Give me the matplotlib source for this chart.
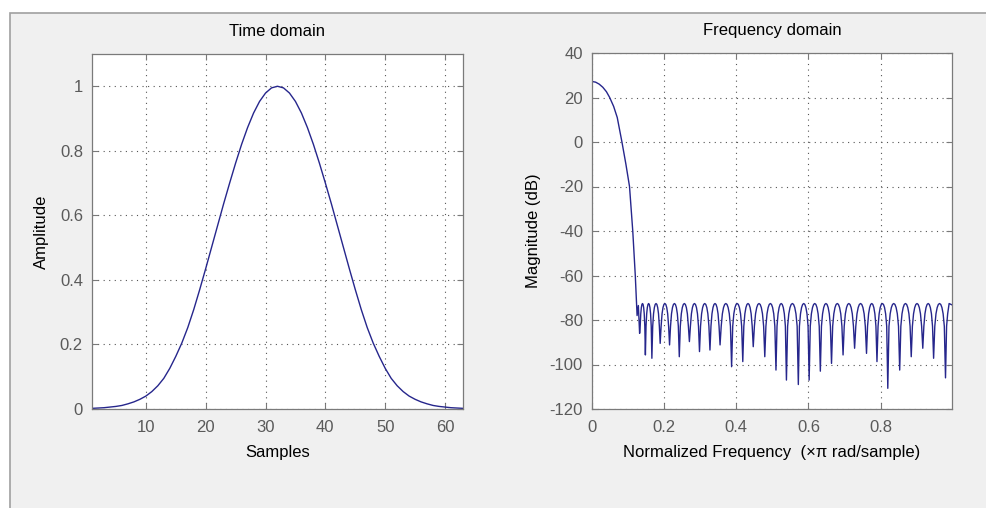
"""Window visualization: time domain and frequency domain views."""

import matplotlib
matplotlib.use("Agg")
import matplotlib.pyplot as plt
from matplotlib.patches import Rectangle

plt.rcParams['font.family'] = ['Liberation Sans', 'DejaVu Sans']
plt.rcParams['axes.unicode_minus'] = False

# time domain: samples 1..63 (symmetric about sample 32)
half_amp = [0.002, 0.003, 0.004, 0.006, 0.008, 0.011, 0.016, 0.022, 0.030, 0.040,
            0.054, 0.072, 0.095, 0.126, 0.163, 0.204, 0.252, 0.308, 0.370, 0.435,
            0.502, 0.569, 0.636, 0.700, 0.762, 0.820, 0.872, 0.917, 0.953, 0.979,
            0.995]
samples = list(range(1, 64))
amplitude = half_amp + [1.0] + half_amp[::-1]

# frequency domain: main lobe
main_f = [0, 0.01, 0.02, 0.03, 0.04, 0.049, 0.06, 0.07, 0.083, 0.094, 0.104,
          0.113, 0.120, 0.125]
main_db = [27.2, 26.9, 26.0, 24.6, 22.6, 20.0, 16.0, 11.0, 0.0, -10.0, -20.0,
           -40.0, -60.0, -78.0]

# side lobes: nulls, peak level and lobe profile
null_f = [0.132, 0.148, 0.166, 0.189, 0.215, 0.242, 0.270, 0.298, 0.327, 0.355,
          0.387, 0.418, 0.447, 0.479, 0.510, 0.539, 0.572, 0.602, 0.633, 0.664,
          0.696, 0.728, 0.761, 0.790, 0.820, 0.853, 0.885, 0.917, 0.947, 0.980]
null_db = [-86, -95.7, -97.2, -90.5, -91.2, -96.5, -89.7, -94.2, -93.5, -91.2,
           -101, -98.7, -92, -96.5, -102.5, -107, -109, -107, -103, -99.5,
           -95.7, -92.7, -95, -98.7, -110.7, -102.5, -96.5, -92.7, -97.2, -106]
sidelobe_db = -72.6
# one lobe, between two nulls: position (fraction) and level below the peak
lobe_pos = [0.1, 0.2, 0.3, 0.4, 0.5, 0.6, 0.7, 0.8, 0.9]
lobe_rel = [-10.2, -4.6, -1.8, -0.4, 0.0, -0.4, -1.8, -4.6, -10.2]
first_f, first_db = [0.1285], [-73.5]
end_f, end_db = [0.990, 0.998], [-72.6, -73.2]

freq = list(main_f) + first_f
mag = list(main_db) + first_db
for i in range(len(null_f)):
    freq.append(null_f[i])
    mag.append(null_db[i])
    if i + 1 < len(null_f):
        span = null_f[i + 1] - null_f[i]
        for p, r in zip(lobe_pos, lobe_rel):
            freq.append(null_f[i] + p * span)
            mag.append(sidelobe_db + r)
freq += [null_f[-1] + 0.003, null_f[-1] + 0.006] + end_f
mag += [sidelobe_db - 10.2, sidelobe_db - 4.6] + end_db

line_color = '#26268c'
tick_color = '#5a5a5a'
fs = 12

fig = plt.figure(figsize=(9.87, 5.08), dpi=100, facecolor='white')
W, H = 987.0, 508.0
panel = Rectangle((10 / W, -0.1), 1.2, (508 - 13) / H + 0.1,
                  transform=fig.transFigure, facecolor='#f0f0f0',
                  edgecolor='#a0a0a0', linewidth=1.2, zorder=-10)
fig.add_artist(panel)


def style_axes(ax):
    ax.set_facecolor('white')
    for s in ax.spines.values():
        s.set_color('#7a7a7a')
        s.set_linewidth(0.9)
    ax.tick_params(direction='in', length=4, top=True, right=True,
                   colors='#7a7a7a', labelcolor=tick_color, labelsize=fs)
    ax.tick_params(axis='x', pad=8)
    ax.tick_params(axis='y', pad=6.5)
    ax.grid(True, linestyle=(0, (1, 4)), color='#555555', linewidth=0.8)


ax1 = fig.add_axes([92 / W, (H - 409) / H, 371 / W, 355 / H])
ax1.plot(samples, amplitude, color=line_color, linewidth=1.0)
ax1.set_xlim(1, 63)
ax1.set_ylim(0, 1.1)
ax1.set_xticks([10, 20, 30, 40, 50, 60])
ax1.set_yticks([0, 0.2, 0.4, 0.6, 0.8, 1.0])
ax1.set_yticklabels(['0', '0.2', '0.4', '0.6', '0.8', '1'])
style_axes(ax1)
ax1.set_title('Time domain', fontsize=fs, pad=13)
ax1.set_xlabel('Samples', fontsize=fs, labelpad=7)
ax1.set_ylabel('Amplitude', fontsize=fs, labelpad=8)

ax2 = fig.add_axes([592 / W, (H - 409) / H, 360 / W, 356 / H])
ax2.plot(freq, mag, color=line_color, linewidth=1.0)
ax2.set_xlim(0, 0.998)
ax2.set_ylim(-120, 40)
ax2.set_xticks([0, 0.2, 0.4, 0.6, 0.8])
ax2.set_xticklabels(['0', '0.2', '0.4', '0.6', '0.8'])
ax2.set_yticks(list(range(-120, 41, 20)))
style_axes(ax2)
ax2.set_title('Frequency domain', fontsize=fs, pad=13)
ax2.set_xlabel('Normalized Frequency  (\u00d7\u03c0 rad/sample)', fontsize=fs,
               labelpad=7)
ax2.set_ylabel('Magnitude (dB)', fontsize=fs, labelpad=6)

fig.savefig('out.png', dpi=100, facecolor=fig.get_facecolor())
